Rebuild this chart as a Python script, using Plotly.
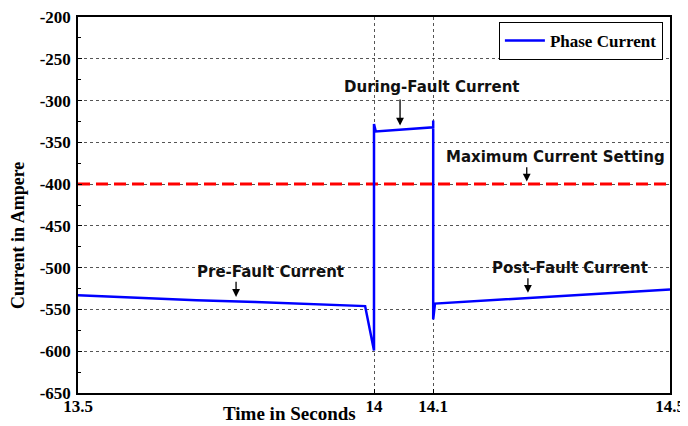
import plotly.graph_objects as go

# ---- data ----
time_s = [13.5, 13.6, 13.7, 13.8, 13.9, 13.985, 14.0, 14.0, 14.003, 14.05, 14.1, 14.1, 14.1, 14.103, 14.2, 14.3, 14.4, 14.5]
phase_current = [-533, -536, -539, -541, -544, -546, -599, -328, -337, -335, -332, -324, -562, -543, -539, -535, -531, -526]
setting_time = [13.5, 14.5]
max_current_setting = [-400, -400]
x_ticks = [13.5, 14, 14.1, 14.5]
x_tick_labels = ["13.5", "14", "14.1", "14.5"]
y_ticks = [-650, -600, -550, -500, -450, -400, -350, -300, -250, -200]
y_tick_labels = ["-650", "-600", "-550", "-500", "-450", "-400", "-350", "-300", "-250", "-200"]

serif = "Liberation Serif"
sans = "DejaVu Sans"

fig = go.Figure()
fig.add_trace(go.Scatter(x=setting_time, y=max_current_setting, mode="lines",
                         line=dict(color="#FF0000", width=3, dash="12px,6px"),
                         showlegend=False, hoverinfo="skip"))
fig.add_trace(go.Scatter(x=time_s, y=phase_current, mode="lines",
                         line=dict(color="#0000FF", width=2.5),
                         name="Phase Current"))

axis_common = dict(showline=True, linecolor="black", linewidth=1.5, mirror=True,
                   showgrid=True, gridcolor="#555", griddash="dot", gridwidth=1,
                   zeroline=False, ticks="inside", ticklen=4, tickcolor="black",
                   automargin=False, ticklabeloverflow="allow",
                   tickfont=dict(family=serif, size=17, color="black", weight="bold"))

fig.update_xaxes(range=[13.5, 14.5], tickvals=x_ticks, ticktext=x_tick_labels, ticklabelstandoff=-3, **axis_common)
fig.update_yaxes(range=[-650, -200], tickvals=y_ticks, ticktext=y_tick_labels, ticklabelstandoff=2,
                 minor=dict(ticks="inside", ticklen=3, tickcolor="black", dtick=25, showgrid=False),
                 **axis_common)

annots = []
def label(x, y, text):
    annots.append(dict(x=x, y=y, xref="x", yref="y", text=text, showarrow=False,
                       font=dict(family=sans, size=15, color="#111", weight="bold")))
def arrow(x, y_tail, y_head):
    annots.append(dict(x=x, y=y_head, ax=x, ay=y_tail, xref="x", yref="y", axref="x", ayref="y",
                       text="", showarrow=True, arrowhead=2, arrowsize=1.2, arrowwidth=1.3,
                       arrowcolor="black"))

label(14.098, -283.5, "During-Fault Current")
arrow(14.044, -297, -330)
label(14.306, -367.5, "Maximum Current Setting")
arrow(14.258, -378, -397)
label(13.826, -505, "Pre-Fault Current")
arrow(13.767, -515, -535)
label(14.331, -500, "Post-Fault Current")
arrow(14.260, -511, -530)

annots.append(dict(x=0.358, y=-0.022, xref="paper", yref="paper", xanchor="center", yanchor="top",
                   text="Time in Seconds", showarrow=False,
                   font=dict(family=serif, size=19, color="black", weight="bold")))
annots.append(dict(x=-0.101, y=0.418, xref="paper", yref="paper", xanchor="center", yanchor="middle",
                   text="Current in Ampere", textangle=-90, showarrow=False,
                   font=dict(family=serif, size=18, color="black", weight="bold")))

fig.update_layout(
    width=680, height=418,
    margin=dict(l=70, r=18, t=9, b=33),
    paper_bgcolor="white", plot_bgcolor="white",
    annotations=annots,
    legend=dict(x=0.988, y=0.987, xanchor="right", yanchor="top", itemwidth=40,
                bordercolor="black", borderwidth=1, bgcolor="white",
                font=dict(family=serif, size=17, color="black", weight="bold")),
)

fig.write_html("out.html")
